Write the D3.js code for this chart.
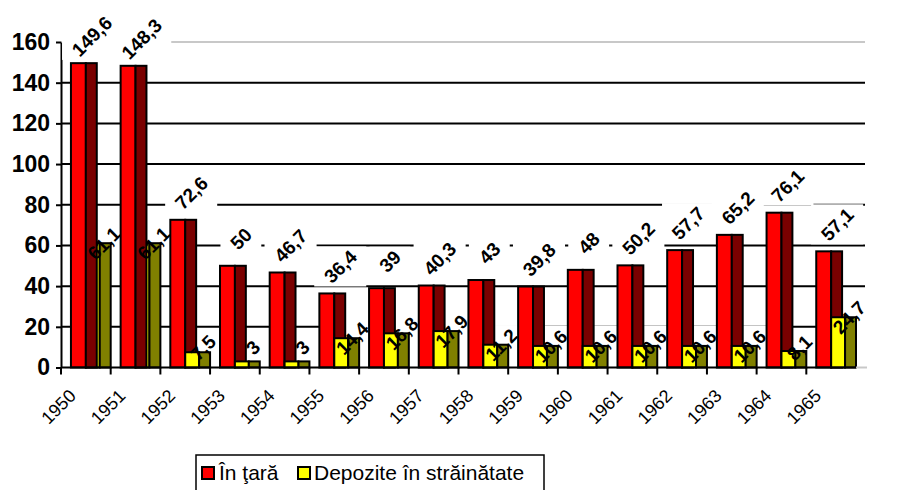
<!DOCTYPE html>
<html>
<head>
<meta charset="utf-8">
<script src="https://cdn.jsdelivr.net/npm/d3@7"></script>
<style>
  html, body { margin: 0; padding: 0; background: #fff; }
  svg { display: block; font-family: "Liberation Sans", Arial, sans-serif; }
</style>
</head>
<body>
<svg id="chart" width="913" height="490"></svg>
<script>
// Gold reserves, 1950–1965
const years = ["1950", "1951", "1952", "1953", "1954", "1955", "1956", "1957",
               "1958", "1959", "1960", "1961", "1962", "1963", "1964", "1965"];
const inTara = [149.6, 148.3, 72.6, 50, 46.7, 36.4, 39, 40.3,
                43, 39.8, 48, 50.2, 57.7, 65.2, 76.1, 57.1];
const depozite = [61.1, 61.1, 7.5, 3, 3, 14.4, 16.8, 17.9,
                  11.2, 10.6, 10.6, 10.6, 10.6, 10.6, 8.1, 24.7];
const yTicks = [0, 20, 40, 60, 80, 100, 120, 140, 160];
const seriesNames = ["În ţară", "Depozite în străinătate"];

const svg = d3.select("#chart");

const plotLeft = 61, plotRight = 856, plotTop = 42, plotBottom = 367.5;
const x = d3.scaleBand().domain(years).range([plotLeft, plotRight]);
const y = d3.scaleLinear().domain([0, 160]).range([plotBottom, plotTop]);
const bw = x.bandwidth();
const fmt = v => String(v).replace(".", ",");

// gridlines
svg.append("g").selectAll("line")
  .data(yTicks.filter(t => t > 0))
  .join("line")
  .attr("x1", plotLeft).attr("x2", 865)
  .attr("y1", d => y(d)).attr("y2", d => y(d))
  .attr("stroke", d => d === 160 ? "#c8c8c8" : "#000")
  .attr("stroke-width", 2);

// y axis
const yAxis = svg.append("g")
  .attr("transform", `translate(${plotLeft},0)`)
  .call(d3.axisLeft(y).tickValues(yTicks).tickSize(5).tickSizeOuter(0).tickPadding(6));
yAxis.select(".domain").attr("stroke", "#000").attr("stroke-width", 2);
yAxis.selectAll(".tick line").attr("stroke", "#000").attr("stroke-width", 2);
yAxis.selectAll(".tick text")
  .attr("fill", "#000")
  .style("font-family", "'Liberation Sans', Arial, sans-serif")
  .style("font-size", "23px").style("font-weight", "bold");

// data label boxes sit under the columns, the label text is drawn per year
const boxLayer = svg.append("g");
const barLayer = svg.append("g");

const colors = {
  red: { front: "#ff0000", side: "#7a0000" },
  yel: { front: "#ffff00", side: "#808000" }
};

function column(g, s, v, f0, f1, f2, c) {
  const yt = y(v), h = plotBottom - yt;
  g.append("rect").attr("x", s + f0 * bw).attr("y", yt)
    .attr("width", (f1 - f0) * bw).attr("height", h)
    .attr("fill", c.front).attr("stroke", "#000").attr("stroke-width", 2);
  g.append("rect").attr("x", s + f1 * bw).attr("y", yt)
    .attr("width", (f2 - f1) * bw).attr("height", h)
    .attr("fill", c.side).attr("stroke", "#000").attr("stroke-width", 2);
}

// value labels slanted 45°, centred on (cx, cy), with a white box behind
function label(g, cx, cy, text) {
  const txt = g.append("text")
    .attr("transform", `translate(${cx},${cy}) rotate(-45)`)
    .attr("text-anchor", "middle").attr("dy", "0.36em")
    .style("font-size", "19px").style("font-weight", "bold")
    .attr("fill", "#000").text(text);
  const w = txt.node().getComputedTextLength();
  const side = (w + 14) * Math.SQRT1_2 + 16;
  boxLayer.append("rect")
    .attr("x", cx - side / 2).attr("y", cy - side / 2 + 6)
    .attr("width", side).attr("height", side - 12)
    .attr("fill", "#fff");
}

years.forEach((yr, i) => {
  const s = x(yr);
  const g = barLayer.append("g");
  const drawRed = () => column(g, s, inTara[i], 0.2, 0.5, 0.72, colors.red);
  const drawYel = () => column(g, s, depozite[i], 0.5, 0.78, 1.0, colors.yel);
  // very tall columns are painted in front of their neighbour
  if (inTara[i] > 100) { drawYel(); drawRed(); } else { drawRed(); drawYel(); }

  label(g, s + 0.62 * bw, y(inTara[i]) - 27, fmt(inTara[i]));
  const yc = Math.min(y(depozite[i]), plotBottom - 20);
  label(g, s + 0.86 * bw, yc, fmt(depozite[i]));
});

// x axis
const xAxis = svg.append("g");
xAxis.append("line")
  .attr("x1", plotLeft).attr("x2", plotRight).attr("y1", plotBottom).attr("y2", plotBottom)
  .attr("stroke", "#000").attr("stroke-width", 2);
xAxis.append("line")
  .attr("x1", plotRight).attr("x2", plotRight + 11).attr("y1", plotBottom).attr("y2", plotBottom)
  .attr("stroke", "#c8c8c8").attr("stroke-width", 2);
xAxis.selectAll("line.tick").data(years).join("line")
  .attr("class", "tick")
  .attr("x1", d => x(d)).attr("x2", d => x(d))
  .attr("y1", plotBottom).attr("y2", plotBottom + 7)
  .attr("stroke", "#000").attr("stroke-width", 2);
xAxis.selectAll("text").data(years).join("text")
  .attr("transform", d => `translate(${x(d) + 16},397) rotate(-45)`)
  .attr("text-anchor", "end")
  .style("font-size", "18px")
  .attr("fill", "#000")
  .text(d => d);

// legend
const lg = svg.append("g");
lg.append("rect").attr("x", 196).attr("y", 455).attr("width", 348).attr("height", 40)
  .attr("fill", "#fff").attr("stroke", "#000").attr("stroke-width", 1.5);
const items = [
  { name: seriesNames[0], fill: colors.red.front, sx: 202, tx: 219 },
  { name: seriesNames[1], fill: colors.yel.front, sx: 298, tx: 314 }
];
items.forEach(it => {
  lg.append("rect").attr("x", it.sx).attr("y", 467).attr("width", 12).attr("height", 12)
    .attr("fill", it.fill).attr("stroke", "#000").attr("stroke-width", 2);
  lg.append("text").attr("x", it.tx).attr("y", 480)
    .style("font-size", "21px").attr("fill", "#000").text(it.name);
});
</script>
</body>
</html>
